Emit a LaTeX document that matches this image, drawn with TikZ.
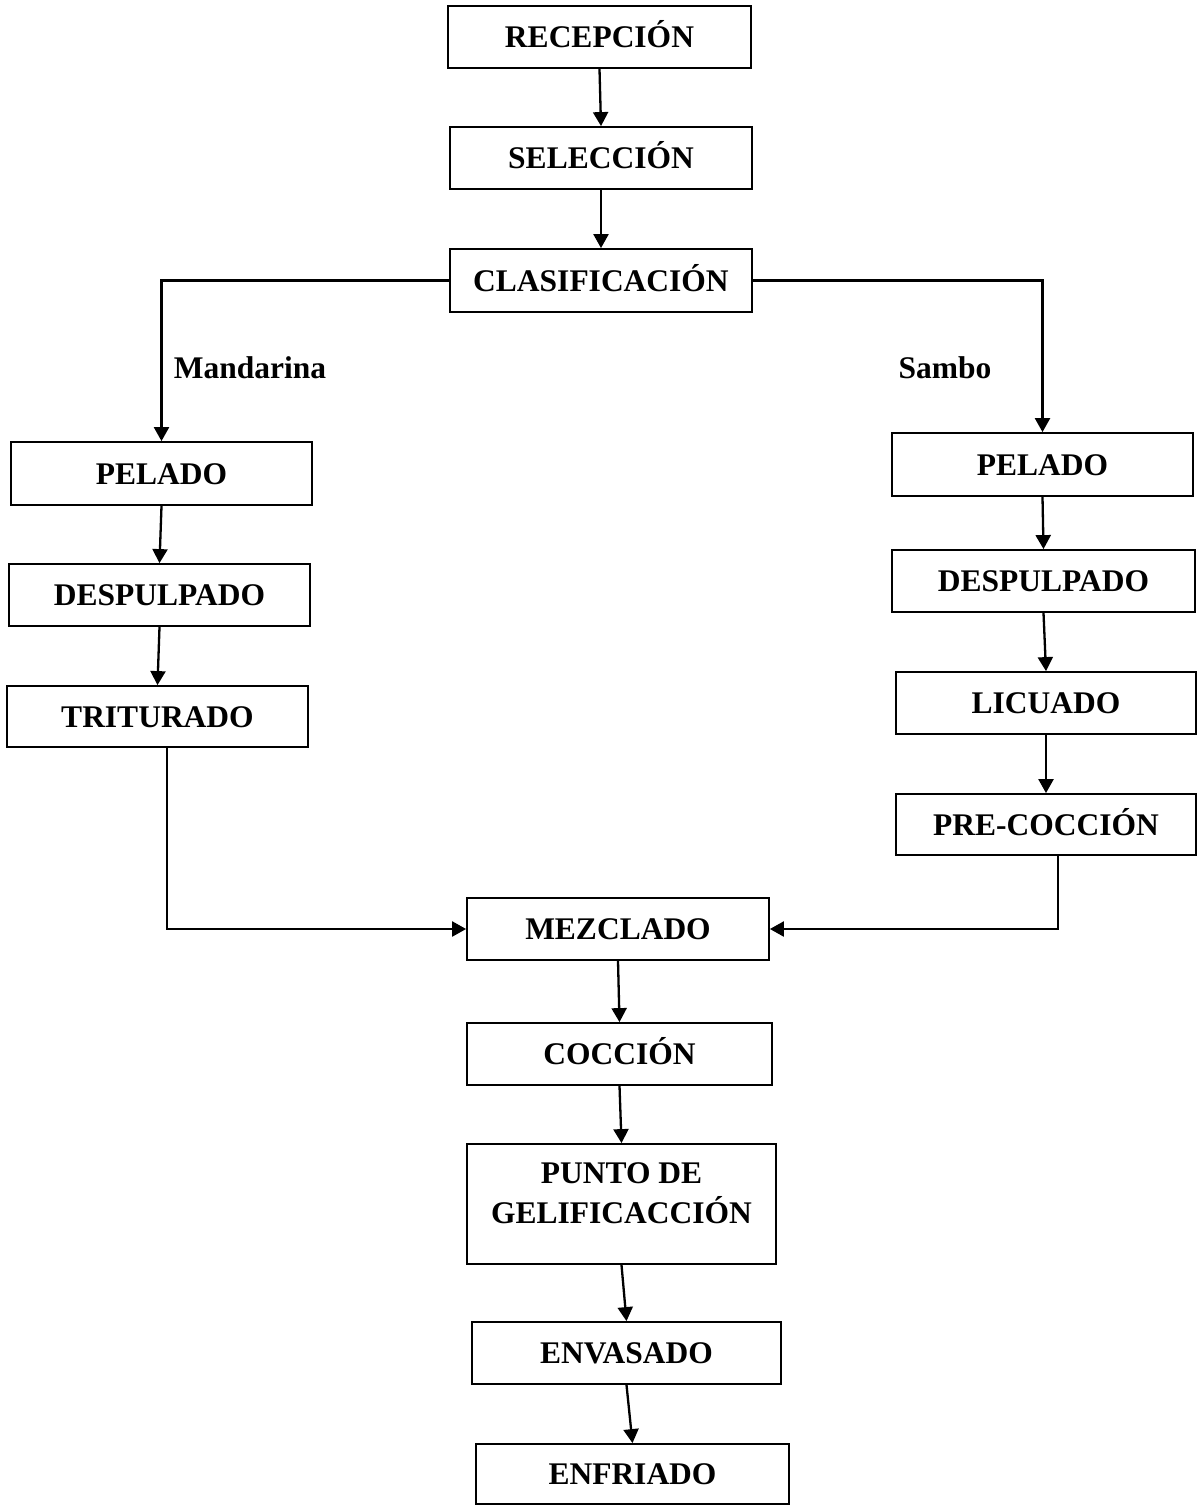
\documentclass[tikz,border=0pt]{standalone}
\usepackage{fontspec}
\setmainfont{Liberation Serif}
\usetikzlibrary{arrows.meta}
\begin{document}
\begin{tikzpicture}[x=1pt,y=-1pt,
  box/.style={draw, line width=1.8pt, inner sep=0pt, text height=21pt, text depth=0pt, font=\fontsize{31.5}{40}\selectfont\bfseries},
  lbl/.style={inner sep=0pt, anchor=base, font=\fontsize{31.5}{40}\selectfont\bfseries},
  conn/.style={line width=2.3pt, -{Triangle[length=14pt,width=15pt]}}]
\useasboundingbox (0,0) rectangle (1198,1509);
\node[box, minimum width=303pt, minimum height=62pt] (rec) at (599.5,37) {RECEPCIÓN};
\node[box, minimum width=302pt, minimum height=62pt] (sel) at (601,158) {SELECCIÓN};
\node[box, minimum width=302pt, minimum height=63pt] (clas) at (601,280.5) {CLASIFICACIÓN};
\node[box, minimum width=301pt, minimum height=63pt] (lpel) at (161.5,473.5) {PELADO};
\node[box, minimum width=301pt, minimum height=62pt] (ldes) at (159.5,595) {DESPULPADO};
\node[box, minimum width=301pt, minimum height=61pt] (trit) at (157.5,716.5) {TRITURADO};
\node[box, minimum width=301pt, minimum height=63pt] (rpel) at (1042.5,464.5) {PELADO};
\node[box, minimum width=303pt, minimum height=62pt] (rdes) at (1043.5,581) {DESPULPADO};
\node[box, minimum width=300pt, minimum height=62pt] (lic) at (1046,703) {LICUADO};
\node[box, minimum width=300pt, minimum height=61pt] (pre) at (1046,824.5) {PRE-COCCIÓN};
\node[box, minimum width=302pt, minimum height=62pt] (mez) at (618,929) {MEZCLADO};
\node[box, minimum width=305pt, minimum height=62pt] (coc) at (619.5,1054) {COCCIÓN};
\node[box, minimum width=309pt, minimum height=120pt, text height=62pt, text depth=24pt] (punto) at (621.5,1204)
  {\begin{tabular}[b]{@{}c@{}}PUNTO DE\\GELIFICACCIÓN\end{tabular}};
\node[box, minimum width=309pt, minimum height=62pt] (env) at (626.5,1353) {ENVASADO};
\node[box, minimum width=313pt, minimum height=60pt] (enf) at (632.5,1474) {ENFRIADO};
\node[lbl] (mand) at (250,378) {Mandarina};
\node[lbl] (sambo) at (945,378) {Sambo};
\draw[conn] (rec.south) -- (sel.north);
\draw[conn] (sel.south) -- (clas.north);
\draw[conn] (clas.west) -| (lpel.north);
\draw[conn] (clas.east) -| (rpel.north);
\draw[conn] (lpel.south) -- (ldes.north);
\draw[conn] (ldes.south) -- (trit.north);
\draw[conn] (rpel.south) -- (rdes.north);
\draw[conn] (rdes.south) -- (lic.north);
\draw[conn] (lic.south) -- (pre.north);
\draw[conn] ([xshift=9.5pt]trit.south) |- (mez.west);
\draw[conn] ([xshift=12pt]pre.south) |- (mez.east);
\draw[conn] (mez.south) -- (coc.north);
\draw[conn] (coc.south) -- (punto.north);
\draw[conn] (punto.south) -- (env.north);
\draw[conn] (env.south) -- (enf.north);
\end{tikzpicture}
\end{document}
